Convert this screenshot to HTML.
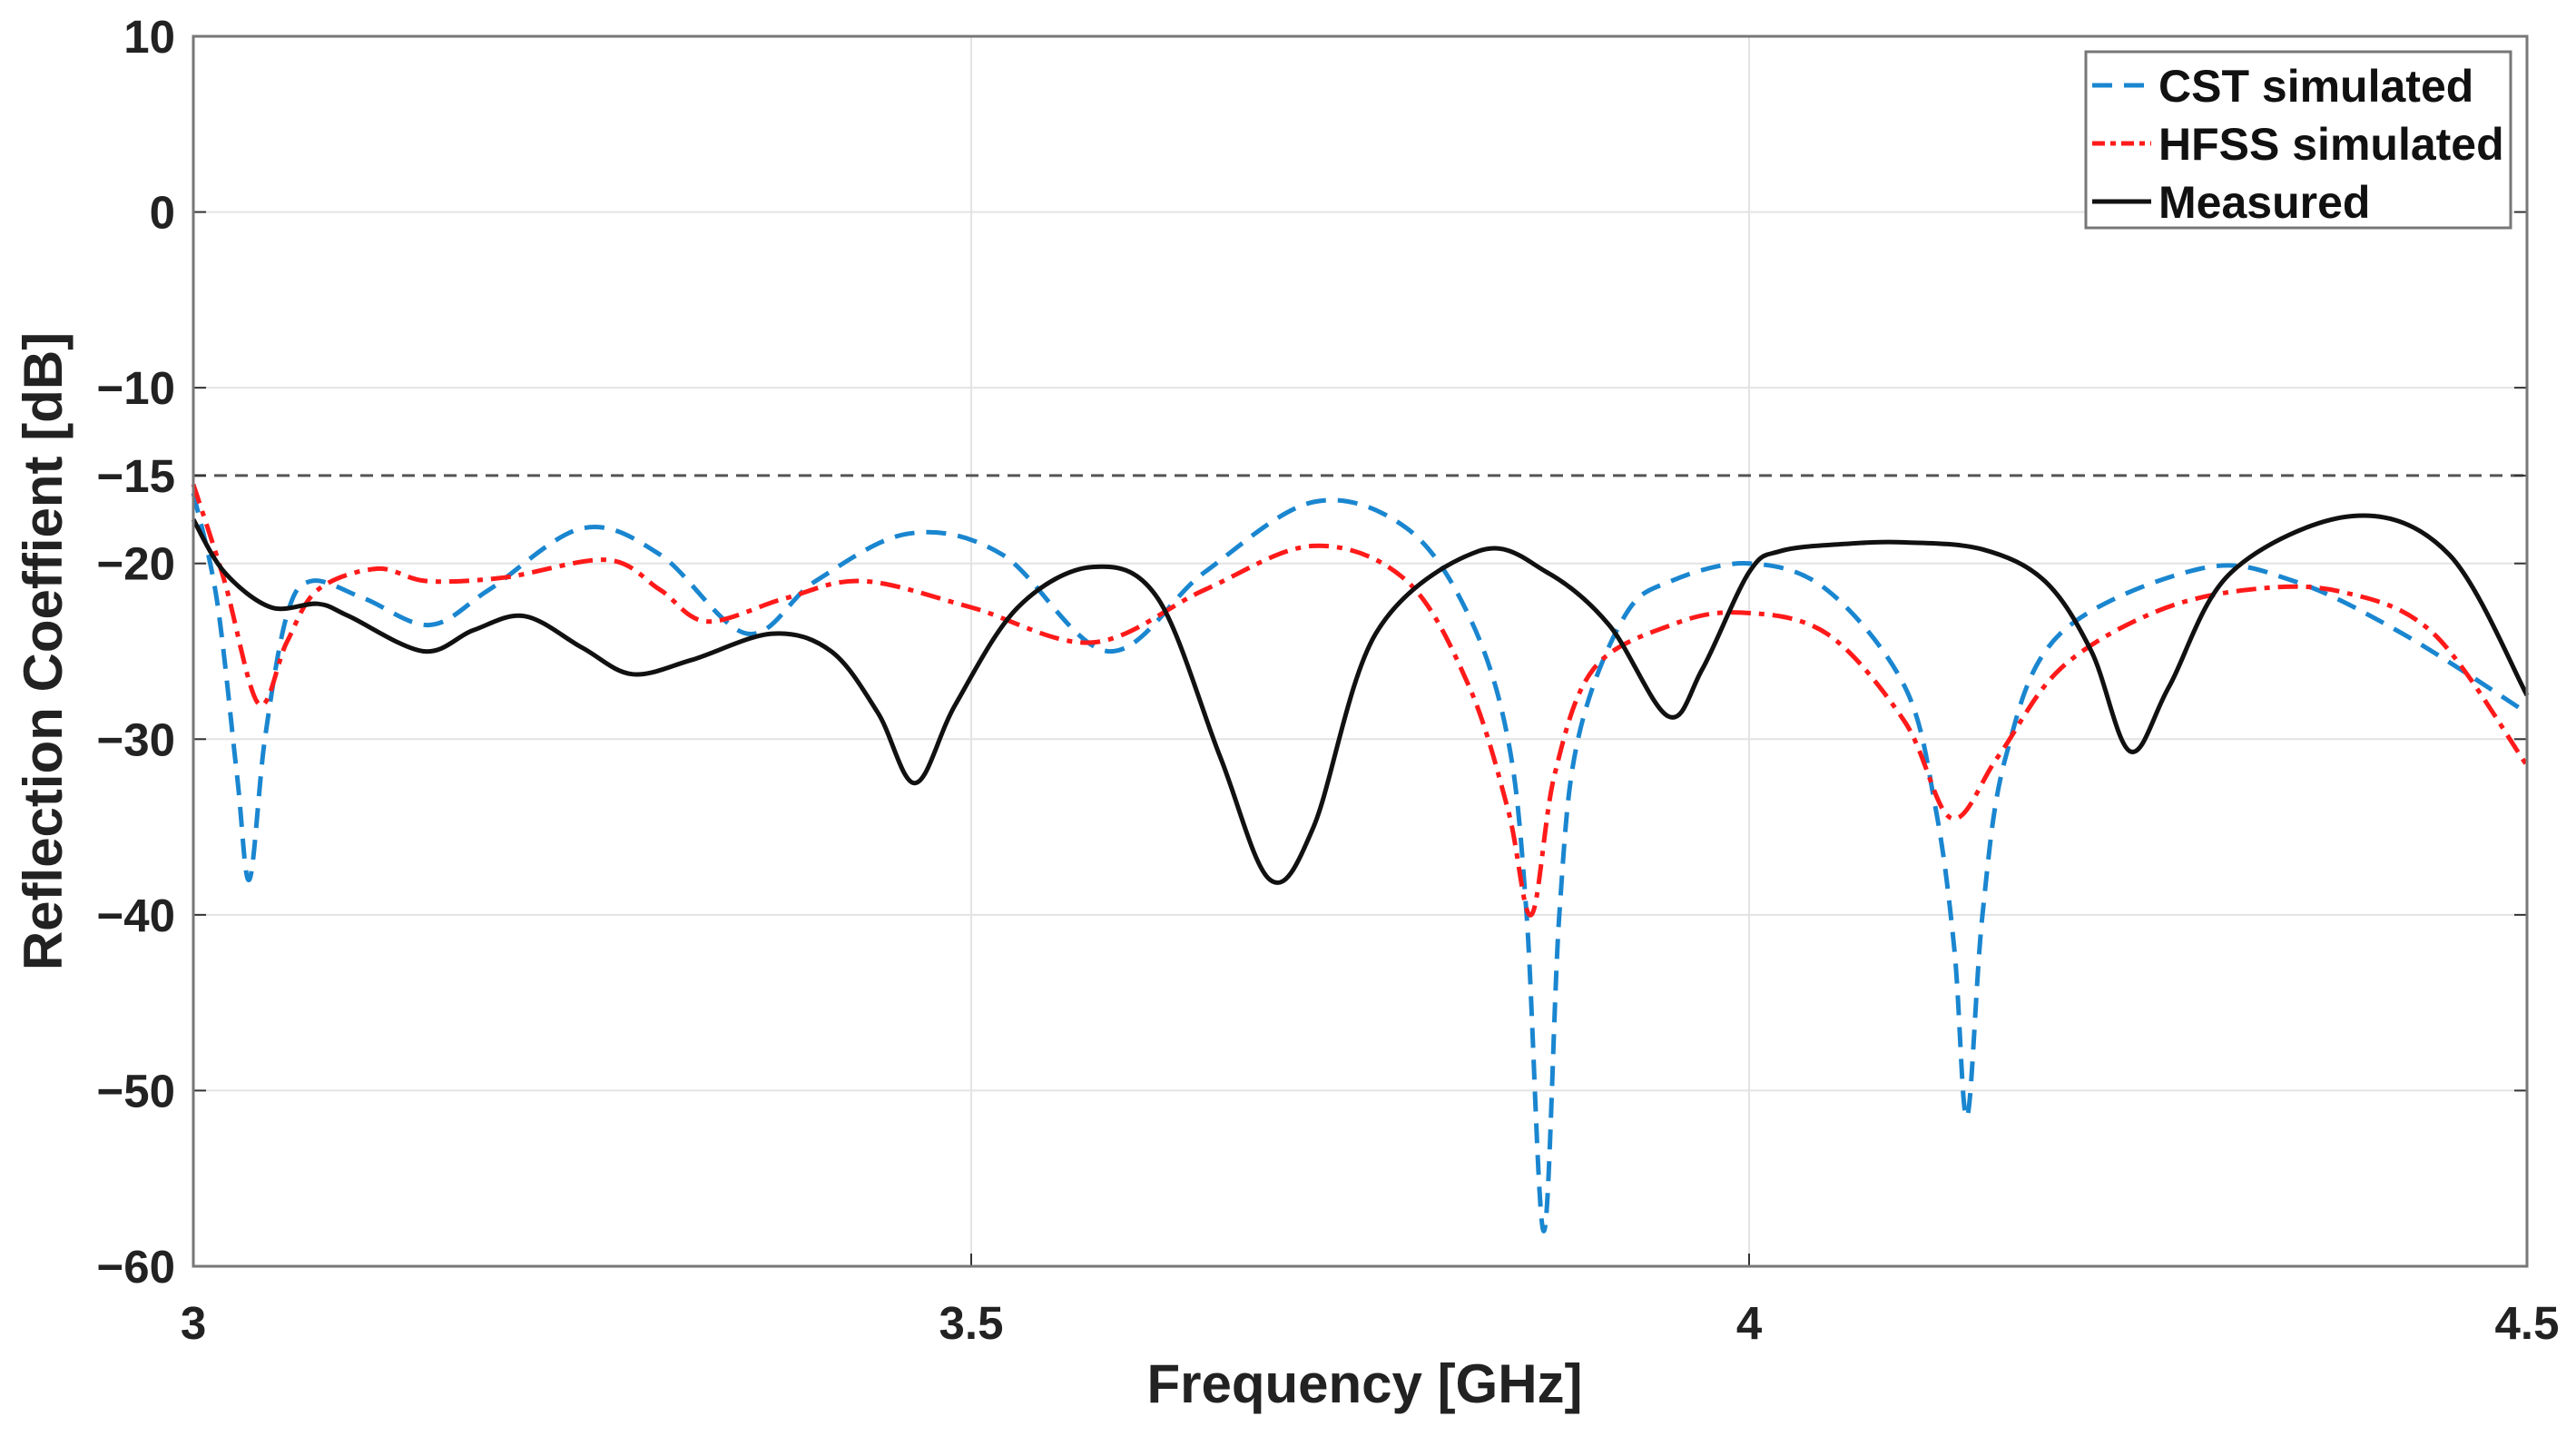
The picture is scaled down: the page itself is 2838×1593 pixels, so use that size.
<!DOCTYPE html>
<html><head><meta charset="utf-8"><style>
html,body{margin:0;padding:0;background:#fff;}
svg{display:block;font-family:"Liberation Sans",Arial,sans-serif;font-weight:bold;}
</style></head><body>
<svg id="chart" width="2838" height="1593" viewBox="0 0 2838 1593" xmlns="http://www.w3.org/2000/svg">
<rect width="2838" height="1593" fill="#fff"/>
<g id="grid"></g>
<g id="series"></g>
<g id="axes"></g>
</svg>
<script>
const xTicks=[3,3.5,4,4.5];
const xTickLabels=["3","3.5","4","4.5"];
const yTicks=[10,0,-10,-15,-20,-30,-40,-50,-60];
const yTickLabels=["10","0","\u221210","\u221215","\u221220","\u221230","\u221240","\u221250","\u221260"];
const threshold=-15;
const cstF=[3.0,3.015,3.028,3.036,3.046,3.06,3.076,3.11,3.152,3.19,3.25,3.3,3.356,3.4,3.46,3.52,3.588,3.65,3.72,3.78,3.82,3.845,3.857,3.868,3.878,3.89,3.92,3.95,4.0,4.05,4.1,4.12,4.132,4.14,4.15,4.165,4.2,4.29,4.35,4.42,4.5];
const cstV=[-16,-22,-32,-38,-30,-23,-21,-22,-23.5,-21.5,-18,-19.5,-24,-21,-18.3,-19.5,-25,-20.5,-16.5,-18,-23,-30,-40,-58,-40,-30,-23,-21,-20,-21.5,-27,-34,-42,-51.5,-40,-31,-24,-20.3,-21,-24,-28.5];
const hfssF=[3.0,3.02,3.042,3.06,3.08,3.118,3.15,3.2,3.266,3.3,3.33,3.38,3.43,3.5,3.578,3.65,3.72,3.78,3.82,3.845,3.86,3.875,3.9,3.95,3.995,4.05,4.1,4.13,4.16,4.2,4.26,4.32,4.38,4.44,4.5];
const hfssV=[-15.5,-21,-28,-24.5,-21.5,-20.3,-21,-20.8,-19.8,-21.5,-23.3,-22,-21,-22.5,-24.5,-21.5,-19,-21,-27,-34,-40,-32,-26,-23.5,-22.8,-24,-29,-34.5,-31,-26,-22.8,-21.5,-21.6,-24,-31.5];
const measF=[3.0,3.02,3.05,3.08,3.1,3.148,3.18,3.213,3.25,3.282,3.32,3.372,3.41,3.44,3.464,3.49,3.53,3.578,3.62,3.66,3.692,3.72,3.76,3.826,3.87,3.91,3.948,3.97,4.0,4.02,4.06,4.1,4.15,4.19,4.22,4.245,4.27,4.31,4.388,4.45,4.5];
const measV=[-17.5,-20.5,-22.5,-22.3,-23,-25,-23.8,-23,-24.8,-26.3,-25.5,-24,-25,-28.5,-32.5,-28,-22.5,-20.2,-22,-31,-38,-35,-24,-19.3,-20.5,-23.5,-28.7,-26,-20.5,-19.3,-18.9,-18.8,-19.2,-21,-25,-30.7,-27,-20.5,-17.3,-19.5,-27.5];

const L=213,R=2784,T=40,B=1395;
const xs=f=>L+(f-3)/1.5*(R-L);
const ys=v=>T+(10-v)/70*(B-T);
const NS="http://www.w3.org/2000/svg";
function mk(tag,attrs,parent){const e=document.createElementNS(NS,tag);for(const k in attrs)e.setAttribute(k,attrs[k]);parent.appendChild(e);return e;}
const grid=document.getElementById('grid'),ser=document.getElementById('series'),ax=document.getElementById('axes');

xTicks.forEach((t,i)=>{
  if(i>0&&i<xTicks.length-1){const g=mk('line',{x1:xs(t),x2:xs(t),y1:T,y2:B,stroke:'#e3e3e3','stroke-width':2},grid);
  
  }
  const tk=mk('line',{x1:xs(t),x2:xs(t),y1:B,y2:B-14,stroke:'#333','stroke-width':2},ax);
  
  
  const tx=mk('text',{x:xs(t),y:B+80,'text-anchor':'middle','font-size':51,fill:'#222'},ax);
  tx.textContent=xTickLabels[i];
  
  
});
yTicks.forEach((t,i)=>{
  if(t!==threshold&&t!==10&&t!==-60){const g=mk('line',{x1:L,x2:R,y1:ys(t),y2:ys(t),stroke:'#e3e3e3','stroke-width':2},grid);
  
  }
  const tk=mk('line',{x1:L,x2:L+14,y1:ys(t),y2:ys(t),stroke:'#333','stroke-width':2},ax);
  
  
  const tk2=mk('line',{x1:R,x2:R-14,y1:ys(t),y2:ys(t),stroke:'#333','stroke-width':2},ax);
  
  
  const tx=mk('text',{x:L-20,y:ys(t)+18,'text-anchor':'end','font-size':51,fill:'#222'},ax);
  tx.textContent=yTickLabels[i];
  
  
});
const th=mk('line',{x1:L,x2:R,y1:ys(threshold),y2:ys(threshold),stroke:'#555','stroke-width':3,'stroke-dasharray':'14 9'},grid);



function pathD(F,V){
  const p=F.map((f,i)=>[xs(f),ys(V[i])]);
  let d='M'+p[0][0].toFixed(1)+','+p[0][1].toFixed(1);
  for(let i=0;i<p.length-1;i++){
    const p0=p[Math.max(0,i-1)],p1=p[i],p2=p[i+1],p3=p[Math.min(p.length-1,i+2)];
    const c1=[p1[0]+(p2[0]-p0[0])/6,p1[1]+(p2[1]-p0[1])/6];
    const c2=[p2[0]-(p3[0]-p1[0])/6,p2[1]-(p3[1]-p1[1])/6];
    d+=' C'+c1[0].toFixed(1)+','+c1[1].toFixed(1)+' '+c2[0].toFixed(1)+','+c2[1].toFixed(1)+' '+p2[0].toFixed(1)+','+p2[1].toFixed(1);
  }
  return d;
}
const s1=mk('path',{d:pathD(cstF,cstV),fill:'none',stroke:'#1a86d0','stroke-width':5,'stroke-dasharray':'22 13'},ser);


const s2=mk('path',{d:pathD(hfssF,hfssV),fill:'none',stroke:'#ff1a1a','stroke-width':5,'stroke-dasharray':'22 9 6 9'},ser);


const s3=mk('path',{d:pathD(measF,measV),fill:'none',stroke:'#111','stroke-width':5},ser);



const fr=mk('rect',{x:L,y:T,width:R-L,height:B-T,fill:'none',stroke:'#777','stroke-width':3},ax);



const xl=mk('text',{x:(L+R)/2+5,y:1545,'text-anchor':'middle','font-size':60,fill:'#222'},ax);
xl.textContent='Frequency [GHz]';


const yl=mk('text',{x:0,y:0,'text-anchor':'middle','font-size':60,fill:'#222',transform:'translate(68,'+((T+B)/2)+') rotate(-90)'},ax);
yl.textContent='Reflection Coeffient [dB]';



const lg=mk('g',{},ax);


mk('rect',{x:2298,y:57,width:468,height:194,fill:'#fff',stroke:'#777','stroke-width':3},lg);
const entries=[['CST simulated','#1a86d0','22 13'],['HFSS simulated','#ff1a1a','14 6 6 6'],['Measured','#111','none']];
entries.forEach((e,i)=>{
  const y=94+i*64;
  const ln=mk('line',{x1:2305,x2:2370,y1:y,y2:y,stroke:e[1],'stroke-width':5,'stroke-dasharray':e[2]},lg);
  
  
  const t=mk('text',{x:2378,y:y+18,'font-size':50,fill:'#111'},lg);
  t.textContent=e[0];
  
  
});
</script>
</body></html>
